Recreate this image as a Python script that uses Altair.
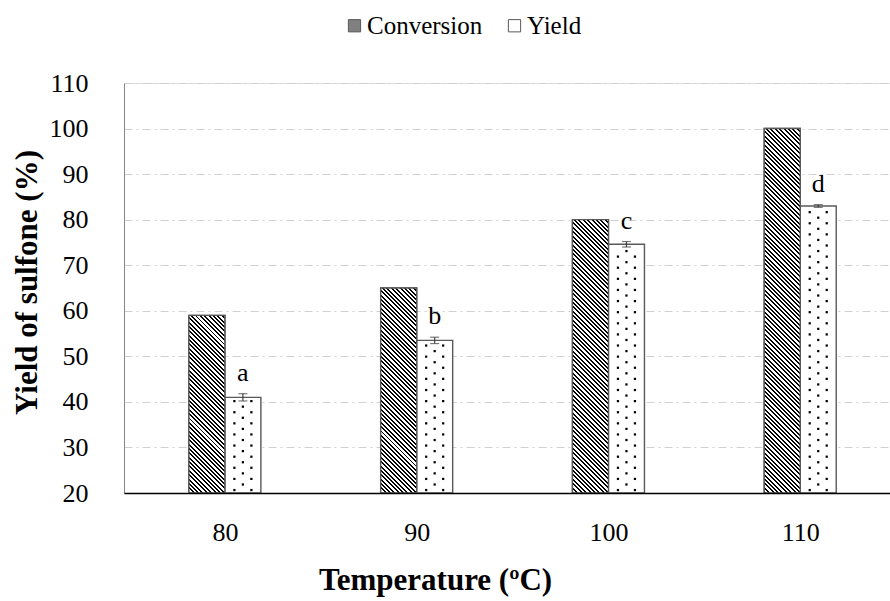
import altair as alt
import pandas as pd

# ---- data ----
temps = [80, 90, 100, 110]
conversion = [59, 65, 80, 100]
yields = [41, 53.5, 74.6, 83]
yield_err = [0.8, 0.7, 0.6, 0.3]
letters = ["a", "b", "c", "d"]
series_names = ["Conversion", "Yield"]
y_ticks = [20, 30, 40, 50, 60, 70, 80, 90, 100, 110]

# ---- layout / style ----
FONT = "Liberation Serif"
W, H = 766, 410
Y_MIN, Y_MAX = 20, 110
X_DOM = [75.0, 114.42]
BAR_W = 36
PERIOD = 4.4
FRAC = 0.45
EDGE = "#595959"

bars_df = pd.DataFrame({
    "temp": temps * 2,
    "series": [series_names[0]] * 4 + [series_names[1]] * 4,
    "value": conversion + yields,
})
ydf = pd.DataFrame({"temp": temps, "value": yields, "err": yield_err, "label": letters})
cdf = pd.DataFrame({"temp": temps, "value": conversion})

xscale = alt.Scale(domain=X_DOM, nice=False, zero=False)
yscale = alt.Scale(domain=[Y_MIN, Y_MAX], nice=False, zero=False)

x_axis = alt.Axis(
    values=temps, title="Temperature (ºC)", ticks=False, grid=False,
    labelFont=FONT, labelFontSize=26, labelColor="black", labelPadding=26,
    titleFont=FONT, titleFontSize=31, titleFontWeight="bold", titleColor="black",
    titleX=311, titleY=87, titleBaseline="middle", titleAlign="center",
    domainColor="black", domainWidth=1.5, zindex=1)
y_axis = alt.Axis(
    values=y_ticks, title="Yield of sulfone (%)", ticks=False,
    labelFont=FONT, labelFontSize=26, labelColor="black", labelPadding=36,
    titleFont=FONT, titleFontSize=31, titleFontWeight="bold", titleColor="black",
    titleAngle=270, titleX=-97, titleY=199, titleAlign="center", titleBaseline="middle",
    domainColor="#868686", domainWidth=1,
    gridColor="#d0d0d0", gridDash=[8, 4, 2, 4], gridWidth=1.2)


def X():
    return alt.X("temp:Q", scale=xscale, axis=x_axis)


def Y(field):
    return alt.Y(f"{field}:Q", scale=yscale, axis=y_axis)


fill_enc = alt.Fill("series:N", scale=alt.Scale(domain=series_names, range=["#808080", "#ffffff"]),
                    legend=alt.Legend(title=None, orient="none", legendX=218, legendY=-70,
                                      direction="horizontal", symbolType="square", symbolSize=150,
                                      symbolStrokeColor=EDGE, symbolStrokeWidth=1,
                                      labelFont=FONT, labelFontSize=25, labelColor="black",
                                      columnPadding=19, labelOffset=0))

base_conv = alt.Chart(bars_df).transform_filter(alt.datum.series == series_names[0]).mark_bar(
    width=BAR_W, xOffset=-BAR_W / 2, stroke=EDGE, strokeWidth=1.4).encode(
    x=X(), y=Y("value"), y2=alt.datum(Y_MIN), fill=fill_enc)
base_yld = alt.Chart(bars_df).transform_filter(alt.datum.series == series_names[1]).mark_bar(
    width=BAR_W, xOffset=BAR_W / 2, stroke=EDGE, strokeWidth=1.4).encode(
    x=X(), y=Y("value"), y2=alt.datum(Y_MIN), fill=fill_enc)


def hatch(v):
    h = (v - Y_MIN) * H / (Y_MAX - Y_MIN)
    w = BAR_W
    lam = (w + h) / (w * w + h * h)
    n = max(1, round((w + h) / PERIOD))
    stops = []
    for k in range(n):
        a = k / n
        b = (k + FRAC) / n
        c = min(1.0, (k + 1) / n)
        stops += [{"offset": a, "color": "#000000"}, {"offset": b, "color": "#000000"},
                  {"offset": b, "color": "#ffffff"}, {"offset": c, "color": "#ffffff"}]
    return {"gradient": "linear", "x1": 0, "y1": 1, "x2": lam * w, "y2": 1 - lam * h, "stops": stops}


hatch_layers = []
for t, v in zip(temps, conversion):
    hatch_layers.append(
        alt.Chart(cdf).transform_filter(alt.datum.temp == t).mark_bar(
            width=BAR_W, xOffset=-BAR_W / 2, stroke=EDGE, strokeWidth=1.4, fill=hatch(v)).encode(
            x=X(), y=Y("value"), y2=alt.datum(Y_MIN)))

DOT_STEP = 1.22
DOT_START = Y_MIN + 0.65
dots_base = alt.Chart(ydf).transform_calculate(
    ys=f"sequence({DOT_START}, datum.value - 0.4, {DOT_STEP})").transform_flatten(["ys"]).transform_calculate(
    row=f"round((datum.ys - {DOT_START}) / {DOT_STEP}) % 2")
dot_layers = []
for row, off in [(0, BAR_W / 2 - 8.5), (0, BAR_W / 2 + 8.5), (1, BAR_W / 2)]:
    dot_layers.append(
        dots_base.transform_filter(f"datum.row == {row}").mark_square(
            size=5, color="black", opacity=1, xOffset=off).encode(
            x=X(), y=Y("ys")))

err_base = alt.Chart(ydf).transform_calculate(lo="datum.value - datum.err", hi="datum.value + datum.err")
err_rule = err_base.mark_rule(color="#404040", strokeWidth=1.2, xOffset=BAR_W / 2).encode(
    x=X(), y=Y("lo"), y2="hi:Q")
err_top = err_base.mark_tick(color="#404040", thickness=1.2, size=9, orient="horizontal",
                             xOffset=BAR_W / 2).encode(x=X(), y=Y("hi"))
err_bot = err_base.mark_tick(color="#404040", thickness=1.2, size=9, orient="horizontal",
                             xOffset=BAR_W / 2).encode(x=X(), y=Y("lo"))
labels = err_base.mark_text(font=FONT, fontSize=26, color="black", baseline="bottom",
                            xOffset=BAR_W / 2, dy=-8).encode(
    x=X(), y=Y("hi"), text="label:N")

chart = alt.layer(base_conv, base_yld, *hatch_layers, *dot_layers, err_rule, err_top, err_bot, labels).properties(
    width=W, height=H,
    padding={"left": 124, "top": 83, "right": 0, "bottom": 108},
    autosize="none",
    background="white",
).configure_view(stroke=None).configure_axis(
    labelFont=FONT, titleFont=FONT
).configure_legend(labelFont=FONT).configure_text(font=FONT).configure(font=FONT)

chart.save("out.html", embed_options={"renderer": "svg", "actions": False})
